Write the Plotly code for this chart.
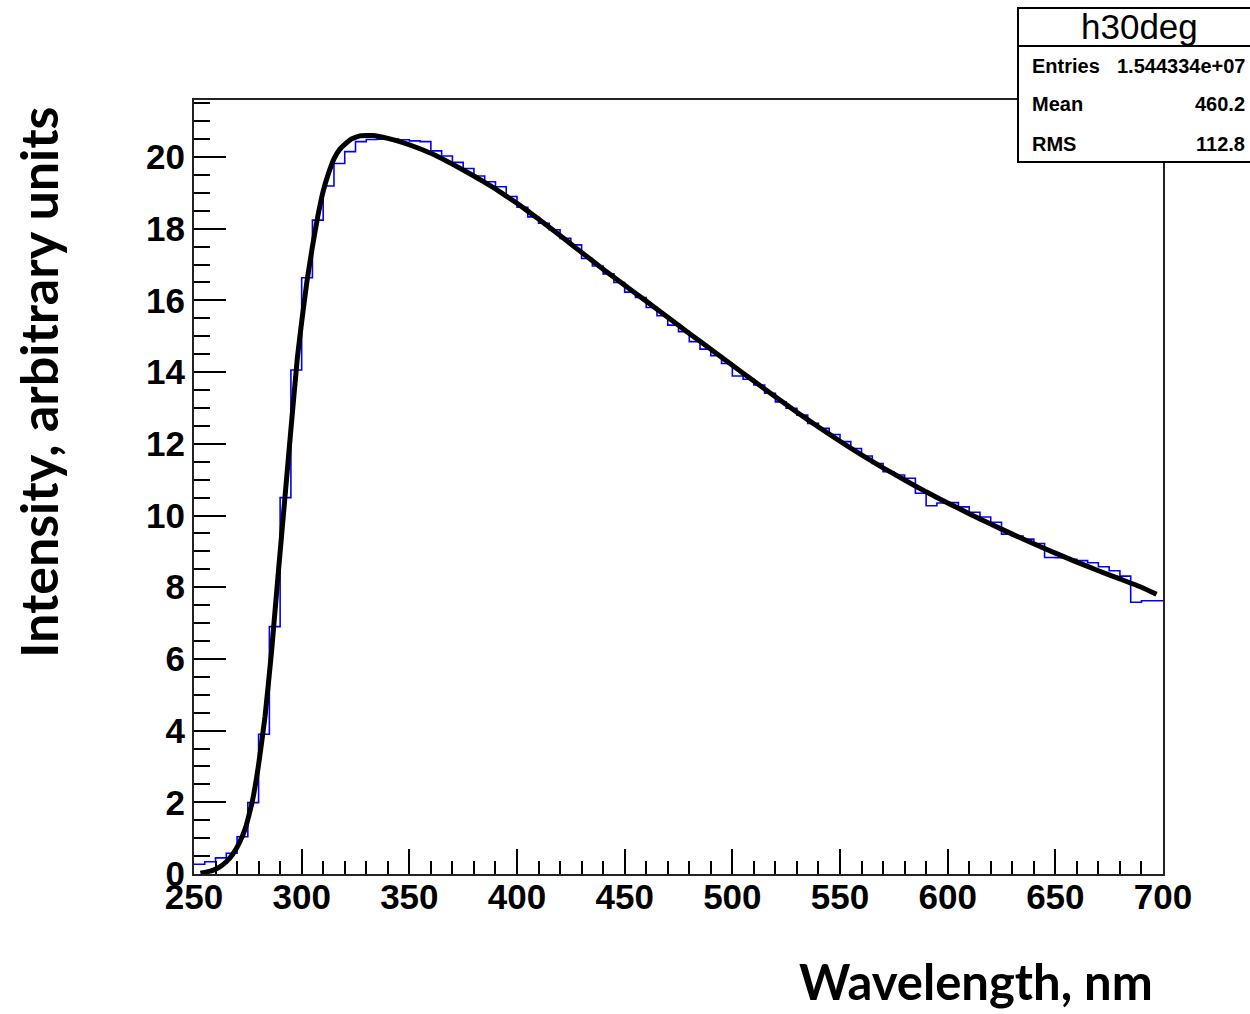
import plotly.graph_objects as go

# Histogram h30deg: 5 nm bins from 250 to 700 nm (lower bin edges)
bin_width = 5
bin_low = list(range(250, 700, bin_width))
counts = [
    0.27, 0.34, 0.45, 0.58, 1.04, 1.99, 3.9, 6.9, 10.5, 14.06,
    16.63, 18.24, 19.19, 19.82, 20.15, 20.43, 20.49, 20.5, 20.5, 20.48,
    20.45, 20.43, 20.17, 20.03, 19.85, 19.68, 19.47, 19.31, 19.17, 18.9,
    18.6, 18.33, 18.15, 17.97, 17.73, 17.55, 17.17, 16.96, 16.74, 16.5,
    16.23, 16.08, 15.8, 15.57, 15.31, 15.13, 14.85, 14.64, 14.46, 14.24,
    13.89, 13.8, 13.64, 13.41, 13.17, 12.99, 12.8, 12.57, 12.43, 12.26,
    12.06, 11.87, 11.66, 11.45, 11.22, 11.13, 11.04, 10.62, 10.27, 10.35,
    10.36, 10.24, 10.09, 9.96, 9.81, 9.48, 9.43, 9.34, 9.22, 8.83,
    8.82, 8.78, 8.74, 8.68, 8.57, 8.46, 8.31, 7.58, 7.62, 7.62,
]

# Fitted spectrum curve
fit_wl = [253, 256, 259, 262, 265, 268, 271, 274, 277, 280, 283, 286, 289,
          292, 295, 298, 300, 302.5, 305, 307.5, 310, 312.5, 315, 317.5, 320,
          323, 327, 333, 340, 346, 354, 362, 370, 380, 390, 400, 410, 420,
          430, 440, 450, 460, 470, 480, 490, 500, 510, 520, 530, 540, 550,
          560, 570, 580, 590, 600, 610, 620, 630, 640, 650, 660, 670, 680,
          690, 697]
fit_val = [0.02, 0.06, 0.11, 0.2, 0.34, 0.55, 0.86, 1.3, 2.0, 3.05, 4.4, 6.2,
           8.3, 10.35, 12.4, 14.4, 15.4, 16.55, 17.5, 18.35, 19.05, 19.55,
           19.95, 20.2, 20.35, 20.5, 20.59, 20.6, 20.52, 20.42, 20.25, 20.05,
           19.8, 19.47, 19.11, 18.71, 18.27, 17.81, 17.34, 16.87, 16.42,
           15.98, 15.53, 15.08, 14.64, 14.19, 13.75, 13.31, 12.88, 12.47,
           12.07, 11.69, 11.33, 10.99, 10.66, 10.35, 10.05, 9.76, 9.48, 9.21,
           8.95, 8.7, 8.46, 8.23, 8.0, 7.8]

# Statistics box entries
stats_title = "h30deg"
stats_labels = ["Entries", "Mean", "RMS"]
stats_values = ["1.544334e+07", "460.2", "112.8"]

W, H = 1250, 1014
L, R, T, B = 194, 1163, 100, 874


def px(x):
    return (x - L) / (R - L)


def py(y):
    return (B - y) / (B - T)


step_x = bin_low + [bin_low[-1] + bin_width]
step_y = counts + [counts[-1]]

fig = go.Figure()
fig.add_trace(go.Scatter(
    x=step_x, y=step_y, mode="lines", line=dict(color="#0000ff", width=1.6, shape="hv"),
    hoverinfo="skip", showlegend=False,
))
fig.add_trace(go.Scatter(
    x=fit_wl, y=fit_val, mode="lines",
    line=dict(color="black", width=5, shape="spline", smoothing=0.3),
    showlegend=False,
))

tick_font = dict(family="Liberation Sans, Arial, sans-serif", size=35, color="black", weight="bold")

fig.update_xaxes(
    range=[250, 700], tickmode="linear", tick0=250, dtick=50,
    ticks="inside", ticklen=25, tickwidth=2, tickcolor="black",
    minor=dict(ticks="inside", ticklen=13, dtick=10, tickwidth=2, tickcolor="black"),
    showline=True, linecolor="#222", linewidth=2, mirror=True,
    showgrid=False, zeroline=False, tickfont=tick_font, ticklabelstandoff=-9,
)
fig.update_yaxes(
    range=[0, 21.59], tickmode="linear", tick0=0, dtick=2,
    ticks="inside", ticklen=32, tickwidth=2, tickcolor="black",
    minor=dict(ticks="inside", ticklen=16, dtick=0.5, tickwidth=2, tickcolor="black"),
    showline=True, linecolor="#222", linewidth=2, mirror=True,
    showgrid=False, zeroline=False, tickfont=tick_font,
)

shapes = [
    # statistics box and header separator
    dict(type="rect", xref="paper", yref="paper", x0=px(1018), x1=px(1262), y0=py(162), y1=py(8),
         fillcolor="white", line=dict(color="black", width=2), layer="above"),
    dict(type="line", xref="paper", yref="paper", x0=px(1018), x1=px(1262), y0=py(46), y1=py(46),
         line=dict(color="black", width=2), layer="above"),
]

title_font = dict(family="Lato, sans-serif", size=52, color="black", weight="bold")
annotations = [
    dict(text="Intensity, arbitrary units", xref="paper", yref="paper", x=px(38), y=py(383),
         textangle=-90, showarrow=False, xanchor="center", yanchor="middle", font=title_font),
    dict(text="Wavelength, nm", xref="paper", yref="paper", x=px(976), y=py(1012),
         showarrow=False, xanchor="center", yanchor="bottom",
         font=dict(title_font, size=49)),
    dict(text=stats_title, xref="paper", yref="paper", x=px(1139), y=py(27),
         showarrow=False, xanchor="center", yanchor="middle",
         font=dict(family="Liberation Sans, Arial, sans-serif", size=35, color="black")),
]
row_y = [66, 104, 144]
for lab, val, yy in zip(stats_labels, stats_values, row_y):
    annotations.append(dict(text=lab, xref="paper", yref="paper", x=px(1030), y=py(yy),
                            showarrow=False, xanchor="left", yanchor="middle",
                            font=dict(family="Liberation Sans, Arial, sans-serif", size=20,
                                      color="black", weight="bold")))
    annotations.append(dict(text=val, xref="paper", yref="paper", x=px(1247), y=py(yy),
                            showarrow=False, xanchor="right", yanchor="middle",
                            font=dict(family="Liberation Sans, Arial, sans-serif", size=20,
                                      color="black", weight="bold")))

fig.update_layout(
    width=W, height=H, margin=dict(l=L, r=W - R, t=T, b=H - B, autoexpand=False),
    paper_bgcolor="white", plot_bgcolor="white",
    shapes=shapes, annotations=annotations, showlegend=False,
)

fig.write_html("out.html")
